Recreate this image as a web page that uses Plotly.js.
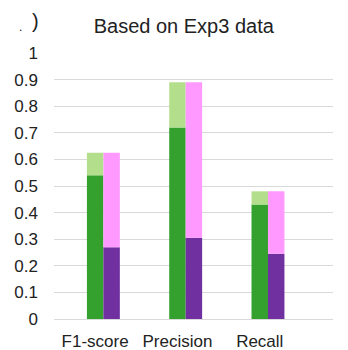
<!DOCTYPE html>
<html>
<head>
<meta charset="utf-8">
<script src="https://cdn.plot.ly/plotly-3.0.1.min.js"></script>
<style>html,body{margin:0;padding:0;background:#fff}#chart{width:348px;height:350px}</style>
</head>
<body>
<div id="chart"></div>
<script>
const categories = ['F1-score', 'Precision', 'Recall'];
const greenLower = [0.54, 0.72, 0.43];
const greenTotal = [0.625, 0.89, 0.48];
const purpleLower = [0.27, 0.305, 0.245];
const purpleTotal = [0.625, 0.89, 0.48];
const yTickVals = [0, 0.1, 0.2, 0.3, 0.4, 0.5, 0.6, 0.7, 0.8, 0.9, 1];
const yTickText = ['0', '0.1', '0.2', '0.3', '0.4', '0.5', '0.6', '0.7', '0.8', '0.9', '1'];

const diff = (tot, low) => tot.map((t, i) => t - low[i]);
const W = 0.2;
function bar(y, base, color, offset) {
  const t = { type: 'bar', x: categories, y: y, width: W, offset: offset,
    marker: { color: color, line: { width: 0 } }, hoverinfo: 'skip', showlegend: false };
  if (base) t.base = base;
  return t;
}
const data = [
  bar(greenLower, null, '#34a02e', -0.1),
  bar(diff(greenTotal, greenLower), greenLower, '#b3df8c', -0.1),
  bar(purpleLower, null, '#7030a0', 0.1),
  bar(diff(purpleTotal, purpleLower), purpleLower, '#ff99ff', 0.1)
];
const font = { family: '"Liberation Sans", Arial, sans-serif', color: '#222' };
const layout = {
  width: 348, height: 350,
  margin: { l: 54, r: 15, t: 53, b: 31 },
  paper_bgcolor: '#fff', plot_bgcolor: '#fff',
  barmode: 'overlay',
  font: font,
  title: { text: 'Based on Exp3 data', font: Object.assign({ size: 20 }, font),
    xref: 'container', x: 0.528, xanchor: 'center', yref: 'container', y: 0.925, yanchor: 'middle' },
  xaxis: { type: 'category', range: [-0.5, 2.89], showgrid: false, zeroline: false,
    showline: false, ticks: '', ticklabelstandoff: 10, tickfont: Object.assign({ size: 17 }, font), fixedrange: true },
  yaxis: { range: [0, 1], tickvals: yTickVals, ticktext: yTickText, showgrid: true,
    gridcolor: '#d9d9d9', gridwidth: 1, zeroline: true, zerolinecolor: '#d9d9d9', zerolinewidth: 1,
    showline: false, ticks: '', ticklabelstandoff: 15, tickfont: Object.assign({ size: 17 }, font), fixedrange: true },
  annotations: [
    { xref: 'paper', yref: 'paper', x: (35.5 - 54) / 279, y: (350 - 21 - 31) / 266, text: ')',
      showarrow: false, font: Object.assign({ size: 20 }, font), xanchor: 'center', yanchor: 'middle' },
    { xref: 'paper', yref: 'paper', x: (20 - 54) / 279, y: (350 - 27 - 31) / 266, text: '.',
      showarrow: false, font: Object.assign({ size: 12 }, font), xanchor: 'center', yanchor: 'middle' }
  ]
};
Plotly.newPlot('chart', data, layout, { displayModeBar: false, staticPlot: true });
</script>
</body>
</html>
